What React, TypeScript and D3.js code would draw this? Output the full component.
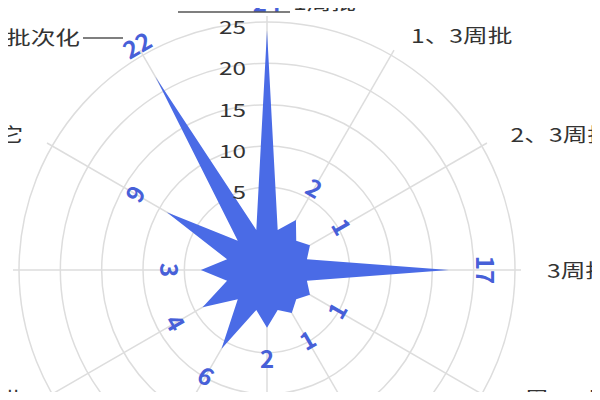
import * as d3 from "d3";

// indicator names, clockwise from the top
const indicators = [
  "1周批",
  "1、3周批",
  "2、3周批",
  "3周批次",
  "2周、1周批",
  "1、2周批",
  "2周批",
  "4周批",
  "2、4周批",
  "周期不定",
  "其它",
  "不定数批次化",
];
const values = [24, 2, 1, 17, 1, 1, 2, 6, 4, 3, 9, 22];
const tickValues = [5, 10, 15, 20, 25];
const ringValues = [5, 10, 15, 20, 25];

const width = 600;
const height = 400;
const cx = 267;
const cy = 270;
const R = 248;

const fillBlue = "#4a6be6";
const labelBlue = "#4760d8";
const gridGray = "#dddddd";
const textDark = "#333333";
const font = "'Noto Sans CJK SC', 'Noto Sans', sans-serif";

export default function App() {
  const rScale = d3.scaleLinear().domain([-5, 25]).range([0, R]);
  const step = (2 * Math.PI) / indicators.length;
  const angleOf = (i: number) => i * step;
  const pt = (a: number, r: number) => [cx + r * Math.sin(a), cy - r * Math.cos(a)];

  // star shape: value spikes on each axis, dips to the zero ring between them
  const points: [number, number][] = [];
  values.forEach((v, i) => {
    points.push([angleOf(i), rScale(v)]);
    points.push([angleOf(i) + step / 2, rScale(0)]);
  });
  const area = d3
    .lineRadial<[number, number]>()
    .angle((d) => d[0])
    .radius((d) => d[1])
    .curve(d3.curveLinearClosed);

  return (
    <svg width={width} height={height} style={{ display: "block", margin: -8 }}>
      <rect width={width} height={height} fill="#fff" />
      {/* rings */}
      {ringValues.map((v) => (
        <circle key={v} cx={cx} cy={cy} r={rScale(v)} fill="none" stroke={gridGray} strokeWidth={1.5} />
      ))}
      {/* axes */}
      {indicators.map((_, i) => {
        const [x, y] = pt(angleOf(i), R + 6);
        return <line key={i} x1={cx} y1={cy} x2={x} y2={y} stroke={gridGray} strokeWidth={1.5} />;
      })}
      {/* area */}
      <path d={area(points) ?? ""} transform={`translate(${cx},${cy})`} fill={fillBlue} />
      {/* radial tick labels */}
      {tickValues.map((v) => (
        <text
          key={v}
          transform={`translate(${cx - 21},${cy - rScale(v) + 7}) scale(1.35,1)`}
          textAnchor="end"
          dominantBaseline="middle"
          fontFamily={font}
          fontSize={18}
          fill={textDark}
        >
          {v}
        </text>
      ))}
      {/* value labels */}
      {values.map((v, i) => {
        const a = angleOf(i);
        const deg = (a * 180) / Math.PI;
        const rot = deg > 90 && deg <= 270 ? deg - 180 : deg;
        const [x, y] = pt(a, rScale(v) + 34);
        if (y < 10) {
          // squeezed against the top edge, sits on the leader line
          return (
            <text
              key={i}
              x={x}
              y={12}
              textAnchor="middle"
              fontFamily={font}
              fontSize={24}
              fontWeight={700}
              fill={labelBlue}
            >
              {v}
            </text>
          );
        }
        return (
          <text
            key={i}
            transform={`translate(${x},${y}) rotate(${rot})`}
            textAnchor="middle"
            dominantBaseline="middle"
            fontFamily={font}
            fontSize={24}
            fontWeight={700}
            fill={labelBlue}
          >
            {v}
          </text>
        );
      })}
      {/* indicator names */}
      {indicators.map((name, i) => {
        const a = angleOf(i);
        const s = Math.sin(a);
        const c = Math.cos(a);
        let [x, y] = pt(a, R + 24);
        let anchor = Math.abs(s) < 0.1 ? "middle" : s > 0 ? "start" : "end";
        x += s > 0.1 ? 8 : s < -0.1 ? -8 : 0;
        y += c < -0.1 ? -5 : 3;
        let baseline = "middle";
        let leader: number[] | null = null;
        if (i === 0) {
          // top name pushed right with a leader line under the value
          anchor = "start";
          x = 293;
          y = 10;
          baseline = "alphabetic";
          leader = [178, 12, 290, 12];
        } else if (i === indicators.length - 1) {
          anchor = "end";
          x = 80;
          y = 40;
          leader = [83, 38, 123, 38];
        }
        return (
          <g key={i}>
            {leader && (
              <line x1={leader[0]} y1={leader[1]} x2={leader[2]} y2={leader[3]} stroke="#555" strokeWidth={1.5} />
            )}
            <text
              transform={`translate(${x},${y}) scale(1.3,1)`}
              textAnchor={anchor}
              dominantBaseline={baseline}
              fontFamily={font}
              fontSize={19}
              fill={textDark}
            >
              {name}
            </text>
          </g>
        );
      })}
    </svg>
  );
}
